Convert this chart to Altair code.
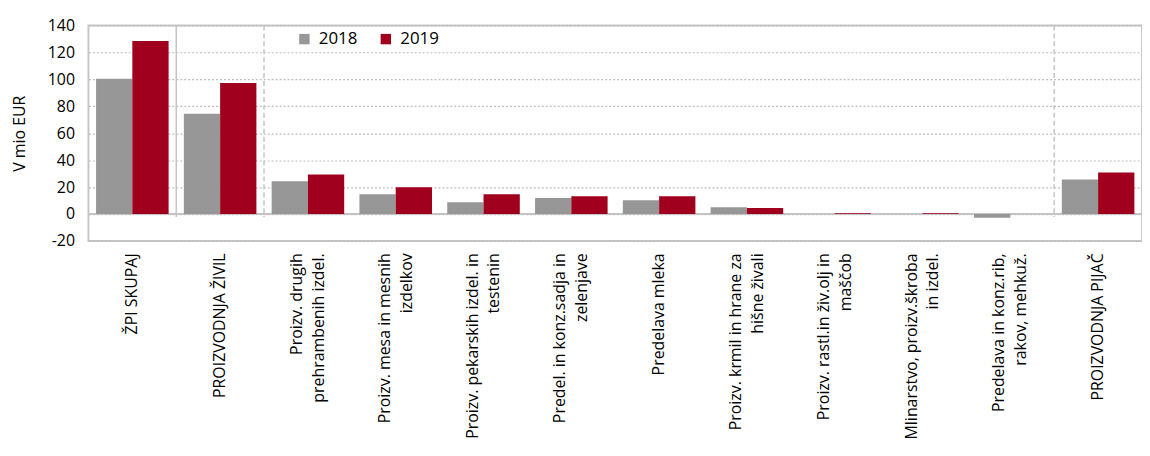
import altair as alt
import pandas as pd

categories = [
    "ŽPI SKUPAJ",
    "PROIZVODNJA ŽIVIL",
    "Proizv. drugih|prehrambenih izdel.",
    "Proizv. mesa in mesnih|izdelkov",
    "Proizv. pekarskih izdel. in|testenin",
    "Predel. in konz.sadja in|zelenjave",
    "Predelava mleka",
    "Proizv. krmil in hrane za|hišne živali",
    "Proizv. rastl.in živ.olj in|maščob",
    "Mlinarstvo, proizv.škroba|in izdel.",
    "Predelava in konz.rib,|rakov, mehkuž.",
    "PROIZVODNJA PIJAČ",
]
values_2018 = [100.5, 74.5, 24.3, 14.7, 8.8, 11.8, 10.3, 5.1, 0.0, 0.0, -2.8, 25.7]
values_2019 = [128.5, 97.2, 29.4, 19.9, 14.7, 13.2, 13.2, 4.4, 0.6, 0.6, 0.0, 30.9]
years = ["2018", "2019"]
colors = ["#979797", "#A0001E"]

y_ticks = [-20, 0, 20, 40, 60, 80, 100, 120, 140]
solid_sep = ["PROIZVODNJA ŽIVIL"]
dashed_sep = ["Proizv. drugih|prehrambenih izdel.", "PROIZVODNJA PIJAČ"]

rows = []
for c, a, b in zip(categories, values_2018, values_2019):
    rows.append({"cat": c, "year": years[0], "value": a})
    rows.append({"cat": c, "year": years[1], "value": b})
df = pd.DataFrame(rows)

FONT = "Open Sans"

x_scale = alt.Scale(domain=categories, paddingInner=0, paddingOuter=0)
x_axis = alt.Axis(
    title=None, labelAngle=-90, labelAlign="right", labelBaseline="middle",
    labelExpr="split(datum.label, '|')", labelFontSize=16, labelFont=FONT,
    labelColor="#000000", labelPadding=12, labelLimit=400, labelLineHeight=22,
    labelOffset={"condition": {"test": "indexof(datum.value, '|') >= 0", "value": -11}, "value": 0},
    ticks=False, domain=False, grid=False, labelOverlap=False,
)
y_scale = alt.Scale(domain=[-20, 140], nice=False)
y_axis = alt.Axis(
    title="V mio EUR", titleFont=FONT, titleFontSize=16, titleFontWeight="normal",
    titleColor="#000000", titlePadding=20, values=y_ticks, labelFont=FONT,
    labelFontSize=16, labelColor="#000000", labelPadding=14, ticks=False,
    labelExpr="toString(datum.value)", labelOverlap=False,
    domain=False, grid=True, gridColor="#bdbdbd", gridDash=[2, 2], gridWidth=1.2,
)

bars = alt.Chart(df).mark_bar().encode(
    x=alt.X("cat:N", sort=categories, scale=x_scale, axis=x_axis),
    xOffset=alt.XOffset("year:N", scale=alt.Scale(paddingOuter=0.21, paddingInner=0)),
    y=alt.Y("value:Q", scale=y_scale, axis=y_axis),
    color=alt.Color(
        "year:N", scale=alt.Scale(domain=years, range=colors),
        legend=alt.Legend(
            title=None, orient="none", legendX=209, legendY=5, direction="horizontal",
            symbolType="square", symbolSize=110, symbolStrokeWidth=0,
            labelFont=FONT, labelFontSize=17, labelColor="#000000",
            columnPadding=20, labelOffset=6,
        ),
    ),
)

zero = alt.Chart(pd.DataFrame({"v": [0]})).mark_rule(color="#c4c4c4", strokeWidth=2).encode(
    y=alt.Y("v:Q", scale=y_scale, axis=y_axis)
)

sep_solid = alt.Chart(pd.DataFrame({"cat": solid_sep})).mark_rule(
    color="#c4c4c4", strokeWidth=1.5
).encode(
    x=alt.X("cat:N", sort=categories, scale=x_scale, axis=x_axis, bandPosition=0),
    y=alt.Y(datum=140, scale=y_scale, axis=y_axis), y2=alt.Y2(datum=-2.2),
)
sep_dashed = alt.Chart(pd.DataFrame({"cat": dashed_sep})).mark_rule(
    color="#c4c4c4", strokeWidth=1.5, strokeDash=[5, 3]
).encode(
    x=alt.X("cat:N", sort=categories, scale=x_scale, axis=x_axis, bandPosition=0),
    y=alt.Y(datum=140, scale=y_scale, axis=y_axis), y2=alt.Y2(datum=-2.2),
)

chart = alt.layer(sep_solid, sep_dashed, zero, bars).properties(
    width=1061, height=217,
    autosize=alt.AutoSizeParams(type="none"),
    padding={"left": 81, "top": 16, "right": 0, "bottom": 215},
    background="#ffffff",
).configure_view(stroke="#c6c6c6", strokeWidth=2)

chart.save("out.html", embed_options={"renderer": "svg", "actions": False})
